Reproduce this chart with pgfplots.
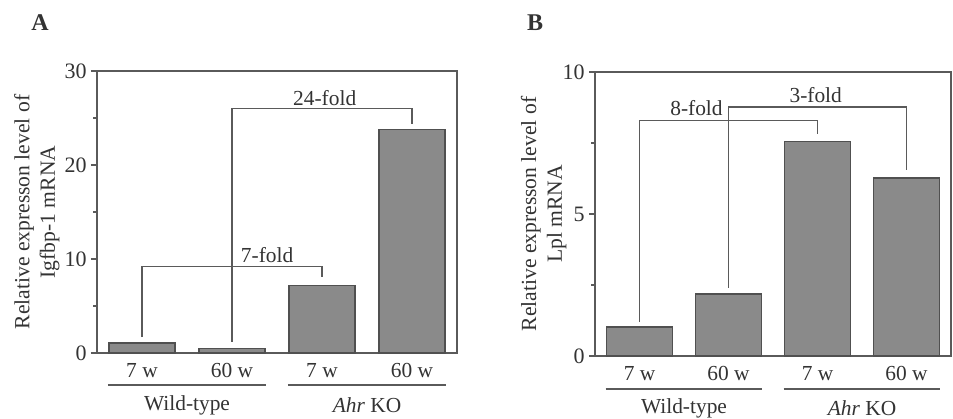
\documentclass[border=0pt]{standalone}
\usepackage{pgfplots}
\pgfplotsset{compat=1.18}
\usepackage{fontspec}
\setmainfont{Liberation Serif}
\definecolor{txt}{HTML}{333333}
\definecolor{ln}{HTML}{5A5A5A}
\definecolor{barfill}{HTML}{8A8A8A}
\definecolor{baredge}{HTML}{505050}
\newcommand{\ff}{\fontsize{10.7}{12.8}\selectfont}
\begin{document}
\begin{tikzpicture}
\path[use as bounding box, fill=white] (0,0) rectangle (476.5pt,-209pt);
\pgfplotsset{
  panel/.style={
    scale only axis,
    anchor=south west,
    xmin=-0.5, xmax=3.5,
    ymin=0,
    axis line style={ln, line width=0.7pt},
    xtick={0,1,2,3},
    xticklabels={7 w,60 w,7 w,60 w},
    xtick style={draw=none},
    ytick pos=left,
    tick align=outside,
    major tick length=3pt,
    minor tick length=1.8pt,
    every tick/.style={ln, line width=0.6pt},
    tick label style={font=\ff, text=txt},
    yticklabel style={font=\fontsize{11}{13}\selectfont, xshift=1.3pt},
    /pgf/number format/assume math mode=true,
    ylabel style={font=\fontsize{10.8}{12.8}\selectfont, text=txt, align=center, anchor=center},
    clip=false,
    ybar, bar width=33pt,
  },
  bars/.style={fill=barfill, draw=baredge, line width=0.7pt},
}
% Panel A
\begin{axis}[panel,
  at={(48.5pt,-176.5pt)}, width=180pt, height=141pt,
  ymax=30, ytick={0,10,20,30}, minor ytick={5,15,25},
  ylabel={Relative expresson level of\\Igfbp-1 mRNA},
  ylabel style={at={(axis description cs:-0.167,0.5)}},
  xticklabel style={yshift=1.5pt},
]
\addplot[bars] coordinates {(0,1.05) (1,0.5) (2,7.2) (3,23.8)};
\draw[ln, line width=0.6pt] (axis cs:0,1.7) -- (axis cs:0,9.2) -- (axis cs:2,9.2) -- (axis cs:2,8.1);
\node[text=txt, font=\ff] at (axis cs:1.39,10.4) {7-fold};
\draw[ln, line width=0.6pt] (axis cs:1,1.2) -- (axis cs:1,26.0) -- (axis cs:3,26.0) -- (axis cs:3,24.4);
\node[text=txt, font=\ff] at (axis cs:2.03,27.1) {24-fold};
\draw[ln, line width=0.6pt] (axis cs:-0.38,-3.4) -- (axis cs:1.38,-3.4);
\draw[ln, line width=0.6pt] (axis cs:1.62,-3.4) -- (axis cs:3.38,-3.4);
\node[text=txt, font=\ff] at (axis cs:0.5,-5.6) {Wild-type};
\node[text=txt, font=\ff] at (axis cs:2.5,-5.6) {\textit{Ahr} KO};
\end{axis}
% Panel B
\begin{axis}[panel,
  at={(297.5pt,-178pt)}, width=178pt, height=142pt,
  ymax=10, ytick={0,5,10}, minor ytick={2.5,7.5},
  ylabel={Relative expresson level of\\Lpl mRNA},
  ylabel style={at={(axis description cs:-0.144,0.5)}},
  xticklabel style={yshift=1.5pt},
]
\addplot[bars] coordinates {(0,1.02) (1,2.18) (2,7.55) (3,6.27)};
\draw[ln, line width=0.6pt] (axis cs:0,1.2) -- (axis cs:0,8.3) -- (axis cs:2,8.3) -- (axis cs:2,7.8);
\node[text=txt, font=\ff] at (axis cs:0.64,8.73) {8-fold};
\draw[ln, line width=0.6pt] (axis cs:1,2.4) -- (axis cs:1,8.77) -- (axis cs:3,8.77) -- (axis cs:3,6.55);
\node[text=txt, font=\ff] at (axis cs:1.98,9.2) {3-fold};
\draw[ln, line width=0.6pt] (axis cs:-0.38,-1.16) -- (axis cs:1.38,-1.16);
\draw[ln, line width=0.6pt] (axis cs:1.62,-1.16) -- (axis cs:3.38,-1.16);
\node[text=txt, font=\ff] at (axis cs:0.5,-1.83) {Wild-type};
\node[text=txt, font=\ff] at (axis cs:2.5,-1.83) {\textit{Ahr} KO};
\end{axis}
\node[font=\bfseries\fontsize{12}{14}\selectfont, text=txt] at (20pt,-11.5pt) {A};
\node[font=\bfseries\fontsize{12}{14}\selectfont, text=txt] at (267.5pt,-11.5pt) {B};
\end{tikzpicture}
\end{document}
